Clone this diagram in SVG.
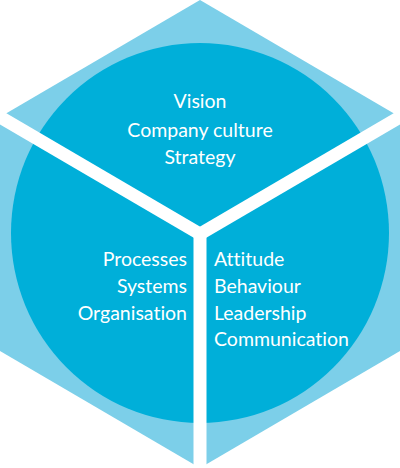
<svg xmlns="http://www.w3.org/2000/svg" width="400" height="468" viewBox="0 0 400 468">
  <style>
    .hex { fill: #7ccfe9; }
    .disc { fill: #00afd9; }
    .div { stroke: #ffffff; stroke-width: 13; fill: none; }
    .t { font-family: Lato, "Open Sans", "Liberation Sans", sans-serif; font-size: 19.5px; fill: #ffffff; font-variant-ligatures: none; font-feature-settings: "liga" 0; }
  </style>
  <rect width="400" height="468" fill="#ffffff"/>
  <g id="background">
    <polygon class="hex" points="200,0 400,117 400,351 200,468 0,351 0,117"/>
    <ellipse class="disc" cx="200" cy="233" rx="189" ry="190"/>
  </g>
  <g id="connectors">
    <line class="div" x1="200" y1="234" x2="-20" y2="105.3"/>
    <line class="div" x1="200" y1="234" x2="420" y2="105.3"/>
    <line class="div" x1="200" y1="234" x2="200" y2="480"/>
  </g>
  <g id="top-segment">
    <text class="t" x="200" y="108" text-anchor="middle">Vision</text>
    <text class="t" x="200" y="137" text-anchor="middle">Company culture</text>
    <text class="t" x="200" y="164" text-anchor="middle">Strategy</text>
  </g>
  <g id="left-segment">
    <text class="t" x="187" y="266" text-anchor="end">Processes</text>
    <text class="t" x="187" y="293" text-anchor="end">Systems</text>
    <text class="t" x="187" y="320" text-anchor="end">Organisation</text>
  </g>
  <g id="right-segment">
    <text class="t" x="214" y="266">Attitude</text>
    <text class="t" x="214" y="293">Behaviour</text>
    <text class="t" x="214" y="320">Leadership</text>
    <text class="t" x="214" y="346">Communication</text>
  </g>
</svg>
